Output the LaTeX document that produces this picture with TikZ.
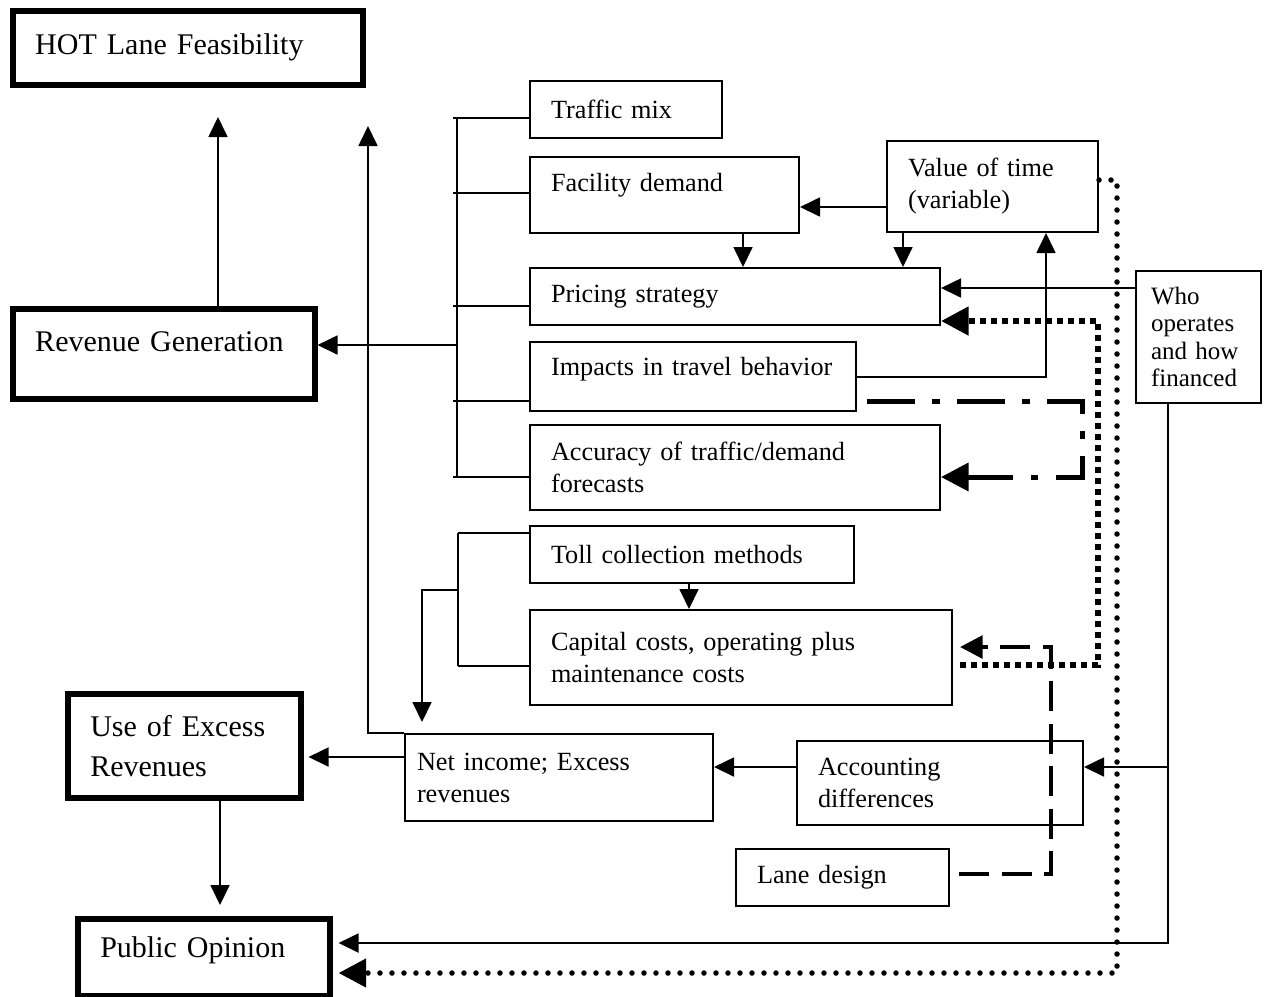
\documentclass[tikz,border=0pt]{standalone}
\usepackage{fontspec}
\setmainfont{Liberation Serif}
\usetikzlibrary{arrows.meta}

\begin{document}
\begin{tikzpicture}[
  x=0.4pt, y=-0.4pt,
  box/.style={draw, line width=0.8pt, anchor=north west, align=left, inner xsep=8.4pt, inner ysep=2pt, font=\fontsize{10.5}{12.8}\selectfont},
  mainbox/.style={draw, line width=2.2pt, anchor=north west, align=left, inner xsep=9pt, inner ysep=2pt, font=\fontsize{12}{16}\selectfont},
  ln/.style={line width=0.7pt},
  arr/.style={ln, -{Triangle[length=8pt, width=7.6pt]}},
  bigarr/.style={-{Triangle[length=11pt, width=11pt]}},
  sqdot/.style={line width=2.4pt, dash pattern=on 2.4pt off 2pt, bigarr},
  rdot/.style={line width=2.2pt, line cap=round, dash pattern=on 0pt off 4.8pt, bigarr},
  dashdot/.style={line width=2pt, dash pattern=on 19pt off 7pt on 3pt off 7pt, bigarr},
  ldash/.style={line width=1.6pt, dash pattern=on 12pt off 5pt, -{Triangle[length=9pt, width=9pt]}}
]
  \useasboundingbox (0,0) rectangle (1265,996);

  % main outcomes
  \node[mainbox, text width=122pt, minimum height=29.6pt] (hot) at (10,8) {HOT Lane Feasibility};
  \node[mainbox, text width=102.8pt, minimum height=36pt, text depth=9.8pt] (rev) at (10,306) {Revenue Generation};
  \node[mainbox, text width=75.2pt, minimum height=41.6pt] (use) at (65,691) {Use of Excess\\Revenues};
  \node[mainbox, text width=82.8pt, minimum height=30.8pt, text depth=8.2pt] (pub) at (75,916) {Public Opinion};

  % revenue factors
  \node[box, text width=60pt, minimum height=22.8pt] (mix) at (529,80) {Traffic mix};
  \node[box, text width=90.8pt, minimum height=30.4pt, text depth=10pt] (fac) at (529,156) {Facility demand};
  \node[box, text width=67.6pt, minimum height=36.4pt] (vot) at (886,140) {Value of time\\(variable)};
  \node[box, text width=147.2pt, minimum height=22.8pt] (pri) at (529,267) {Pricing strategy};
  \node[box, text width=113.6pt, minimum height=27.6pt, text depth=7.8pt] (imp) at (529,341) {Impacts in travel behavior};
  \node[box, text width=147.2pt, minimum height=34pt] (acc) at (529,424) {Accuracy of traffic/demand\\forecasts};
  \node[box, text width=38pt, minimum height=52.8pt, inner xsep=6pt, font=\fontsize{10}{11}\selectfont] (who) at (1135,270) {Who\\operates\\and how\\financed};

  % cost factors
  \node[box, text width=112.8pt, minimum height=22.8pt] (tol) at (529,525) {Toll collection methods};
  \node[box, text width=152pt, minimum height=38pt] (cap) at (529,609) {Capital costs, operating plus\\maintenance costs};
  \node[box, text width=113.6pt, minimum height=34.8pt, inner xsep=4.8pt] (net) at (404,733) {Net income; Excess\\revenues};
  \node[box, text width=97.6pt, minimum height=33.6pt] (acd) at (796,740) {Accounting\\differences};
  \node[box, text width=68.4pt, minimum height=22.8pt] (lan) at (735,848) {Lane design};

  % left column
  \coordinate (revup) at (218,117);
  \coordinate (netup) at (368,126);
  \draw[arr] (rev.north -| revup) -- (revup);
  \draw[arr] (net.north west) -| (netup);
  \draw[arr, shorten >=2pt] (net.west |- 0,757) -- (use.east |- 0,757);
  \draw[arr, shorten >=4.4pt] (use.south -| 220,0) -- (pub.north -| 220,0);

  % revenue bracket
  \foreach \n/\y in {mix/118, fac/193, pri/306, imp/401, acc/477}
    \draw[ln] (\n.west |- 0,\y) -- (453,\y);
  \draw[ln] (457,118) -- (457,477);
  \draw[arr] (457,345) -- (rev.east |- 0,345);

  % revenue factors links
  \draw[arr] (vot.west |- 0,207) -- (fac.east |- 0,207);
  \draw[arr] (fac.south -| 743,0) -- (pri.north -| 743,0);
  \draw[arr] (vot.south -| 903,0) -- (pri.north -| 903,0);
  \draw[arr] (imp.east |- 0,377) -| (vot.south -| 1046,0);
  \draw[arr] (who.west |- 0,288) -- (pri.east |- 0,288);
  \draw[sqdot, shorten <=2.8pt] (cap.east |- 0,665) -| (1098,321) -- (pri.east |- 0,321);
  \draw[dashdot, shorten <=4pt] (imp.east |- 0,401) -| (1082,477) -- (acc.east |- 0,477);

  % cost bracket
  \foreach \n/\y in {tol/533, cap/666}
    \draw[ln] (\n.west |- 0,\y) -- (458,\y);
  \draw[ln] (458,533) -- (458,666);
  \draw[arr, shorten >=4.4pt] (458,590) -| (net.north -| 422,0);
  \draw[arr] (tol.south -| 689,0) -- (cap.north -| 689,0);
  \draw[arr] (acd.west |- 0,767) -- (net.east |- 0,767);
  \draw[ldash, shorten <=3.6pt, shorten >=2.8pt] (lan.east |- 0,874) -| (1051,647) -- (cap.east |- 0,647);

  % who operates
  \draw[arr, shorten >=2.4pt] (who.south -| 1168,0) |- (pub.east |- 0,943);
  \draw[arr] (1168,767) -- (acd.east |- 0,767);
  \draw[rdot, shorten >=2.4pt] (vot.east |- 0,180) -| (1117,973) -- (pub.east |- 0,973);
\end{tikzpicture}
\end{document}
